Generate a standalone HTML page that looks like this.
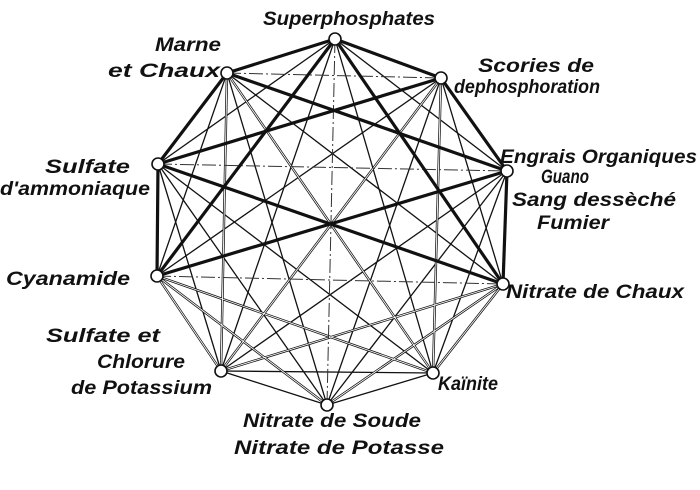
<!DOCTYPE html>
<html><head><meta charset="utf-8"><style>
html,body{margin:0;padding:0;background:#fff;width:700px;height:490px;overflow:hidden}
text{font-family:"Liberation Sans",sans-serif;font-style:italic;font-weight:bold;font-size:19px;fill:#111}
</style></head><body>
<svg width="700" height="490" viewBox="0 0 700 490" xmlns="http://www.w3.org/2000/svg">
<g stroke="#111" stroke-width="1.3" fill="none">
<line x1="335" y1="39" x2="433" y2="373"/>
<line x1="335" y1="39" x2="221" y2="371"/>
<line x1="335" y1="39" x2="158" y2="164"/>
<line x1="441" y1="78" x2="503" y2="284"/>
<line x1="441" y1="78" x2="327" y2="405"/>
<line x1="441" y1="78" x2="157" y2="276"/>
<line x1="507" y1="171" x2="433" y2="373"/>
<line x1="507" y1="171" x2="327" y2="405"/>
<line x1="507" y1="171" x2="221" y2="371"/>
<line x1="433" y1="373" x2="158" y2="164"/>
<line x1="327" y1="405" x2="158" y2="164"/>
<line x1="327" y1="405" x2="227" y2="73"/>
<line x1="221" y1="371" x2="158" y2="164"/>
<line x1="157" y1="276" x2="227" y2="73"/>
<line x1="507" y1="171" x2="335" y2="39"/>
<line x1="503" y1="284" x2="227" y2="73"/>
<line x1="433" y1="373" x2="327" y2="405"/>
<line x1="327" y1="405" x2="221" y2="371"/>
<line x1="433" y1="373" x2="221" y2="371"/>
</g>
<g stroke="#111" stroke-width="2.4" fill="none">
<line x1="441" y1="78" x2="433" y2="373"/>
<line x1="221" y1="371" x2="227" y2="73"/>
<line x1="433" y1="373" x2="227" y2="73"/>
<line x1="441" y1="78" x2="221" y2="371"/>
<line x1="503" y1="284" x2="221" y2="371"/>
<line x1="433" y1="373" x2="157" y2="276"/>
<line x1="157" y1="276" x2="221" y2="371"/>
<line x1="503" y1="284" x2="433" y2="373"/>
<line x1="327" y1="405" x2="157" y2="276"/>
<line x1="327" y1="405" x2="503" y2="284"/>
</g>
<g stroke="#fff" stroke-width="0.9" fill="none">
<line x1="441" y1="78" x2="433" y2="373"/>
<line x1="221" y1="371" x2="227" y2="73"/>
<line x1="433" y1="373" x2="227" y2="73"/>
<line x1="441" y1="78" x2="221" y2="371"/>
<line x1="503" y1="284" x2="221" y2="371"/>
<line x1="433" y1="373" x2="157" y2="276"/>
<line x1="157" y1="276" x2="221" y2="371"/>
<line x1="503" y1="284" x2="433" y2="373"/>
<line x1="327" y1="405" x2="157" y2="276"/>
<line x1="327" y1="405" x2="503" y2="284"/>
</g>
<g stroke="#333" stroke-width="1" fill="none" stroke-dasharray="14 3 2 3">
<line x1="227" y1="73" x2="441" y2="78"/>
<line x1="158" y1="164" x2="507" y2="171"/>
<line x1="157" y1="276" x2="503" y2="284"/>
<line x1="335" y1="39" x2="327" y2="405"/>
</g>
<g stroke="#111" stroke-width="3.2" fill="none" stroke-linecap="round">
<line x1="335" y1="39" x2="441" y2="78"/>
<line x1="441" y1="78" x2="507" y2="171"/>
<line x1="507" y1="171" x2="503" y2="284"/>
<line x1="335" y1="39" x2="227" y2="73"/>
<line x1="227" y1="73" x2="158" y2="164"/>
<line x1="158" y1="164" x2="157" y2="276"/>
<line x1="335" y1="39" x2="157" y2="276"/>
<line x1="335" y1="39" x2="503" y2="284"/>
<line x1="227" y1="73" x2="507" y2="171"/>
<line x1="158" y1="164" x2="503" y2="284"/>
<line x1="441" y1="78" x2="158" y2="164"/>
<line x1="157" y1="276" x2="507" y2="171"/>
</g>
<g fill="#fff" stroke="#111" stroke-width="1.6">
<circle cx="335" cy="39" r="6"/><circle cx="441" cy="78" r="6"/>
<circle cx="507" cy="171" r="6"/><circle cx="503" cy="284" r="6"/>
<circle cx="433" cy="373" r="6"/><circle cx="327" cy="405" r="6"/>
<circle cx="221" cy="371" r="6"/><circle cx="157" cy="276" r="6"/>
<circle cx="158" cy="164" r="6"/><circle cx="227" cy="73" r="6"/>
</g>
<text x="263" y="25" textLength="172" lengthAdjust="spacingAndGlyphs">Superphosphates</text>
<text x="155" y="51" textLength="66" lengthAdjust="spacingAndGlyphs">Marne</text>
<text x="108" y="77" textLength="112" lengthAdjust="spacingAndGlyphs">et Chaux</text>
<text x="478" y="72" textLength="116" lengthAdjust="spacingAndGlyphs">Scories de</text>
<text x="454" y="93" textLength="146" lengthAdjust="spacingAndGlyphs">dephosphoration</text>
<text x="500" y="163" textLength="197" lengthAdjust="spacingAndGlyphs">Engrais Organiques</text>
<text x="541" y="183" textLength="48" lengthAdjust="spacingAndGlyphs">Guano</text>
<text x="512" y="206" textLength="164" lengthAdjust="spacingAndGlyphs">Sang dessèché</text>
<text x="537" y="229" textLength="72" lengthAdjust="spacingAndGlyphs">Fumier</text>
<text x="45" y="173" textLength="85" lengthAdjust="spacingAndGlyphs">Sulfate</text>
<text x="0" y="195" textLength="150" lengthAdjust="spacingAndGlyphs">d'ammoniaque</text>
<text x="6" y="285" textLength="124" lengthAdjust="spacingAndGlyphs">Cyanamide</text>
<text x="46" y="342" textLength="114" lengthAdjust="spacingAndGlyphs">Sulfate et</text>
<text x="97" y="368" textLength="88" lengthAdjust="spacingAndGlyphs">Chlorure</text>
<text x="71" y="394" textLength="141" lengthAdjust="spacingAndGlyphs">de Potassium</text>
<text x="506" y="298" textLength="178" lengthAdjust="spacingAndGlyphs">Nitrate de Chaux</text>
<text x="438" y="390" textLength="60" lengthAdjust="spacingAndGlyphs">Kaïnite</text>
<text x="243" y="427" textLength="178" lengthAdjust="spacingAndGlyphs">Nitrate de Soude</text>
<text x="234" y="454" textLength="210" lengthAdjust="spacingAndGlyphs">Nitrate de Potasse</text>
</svg>
</body></html>
